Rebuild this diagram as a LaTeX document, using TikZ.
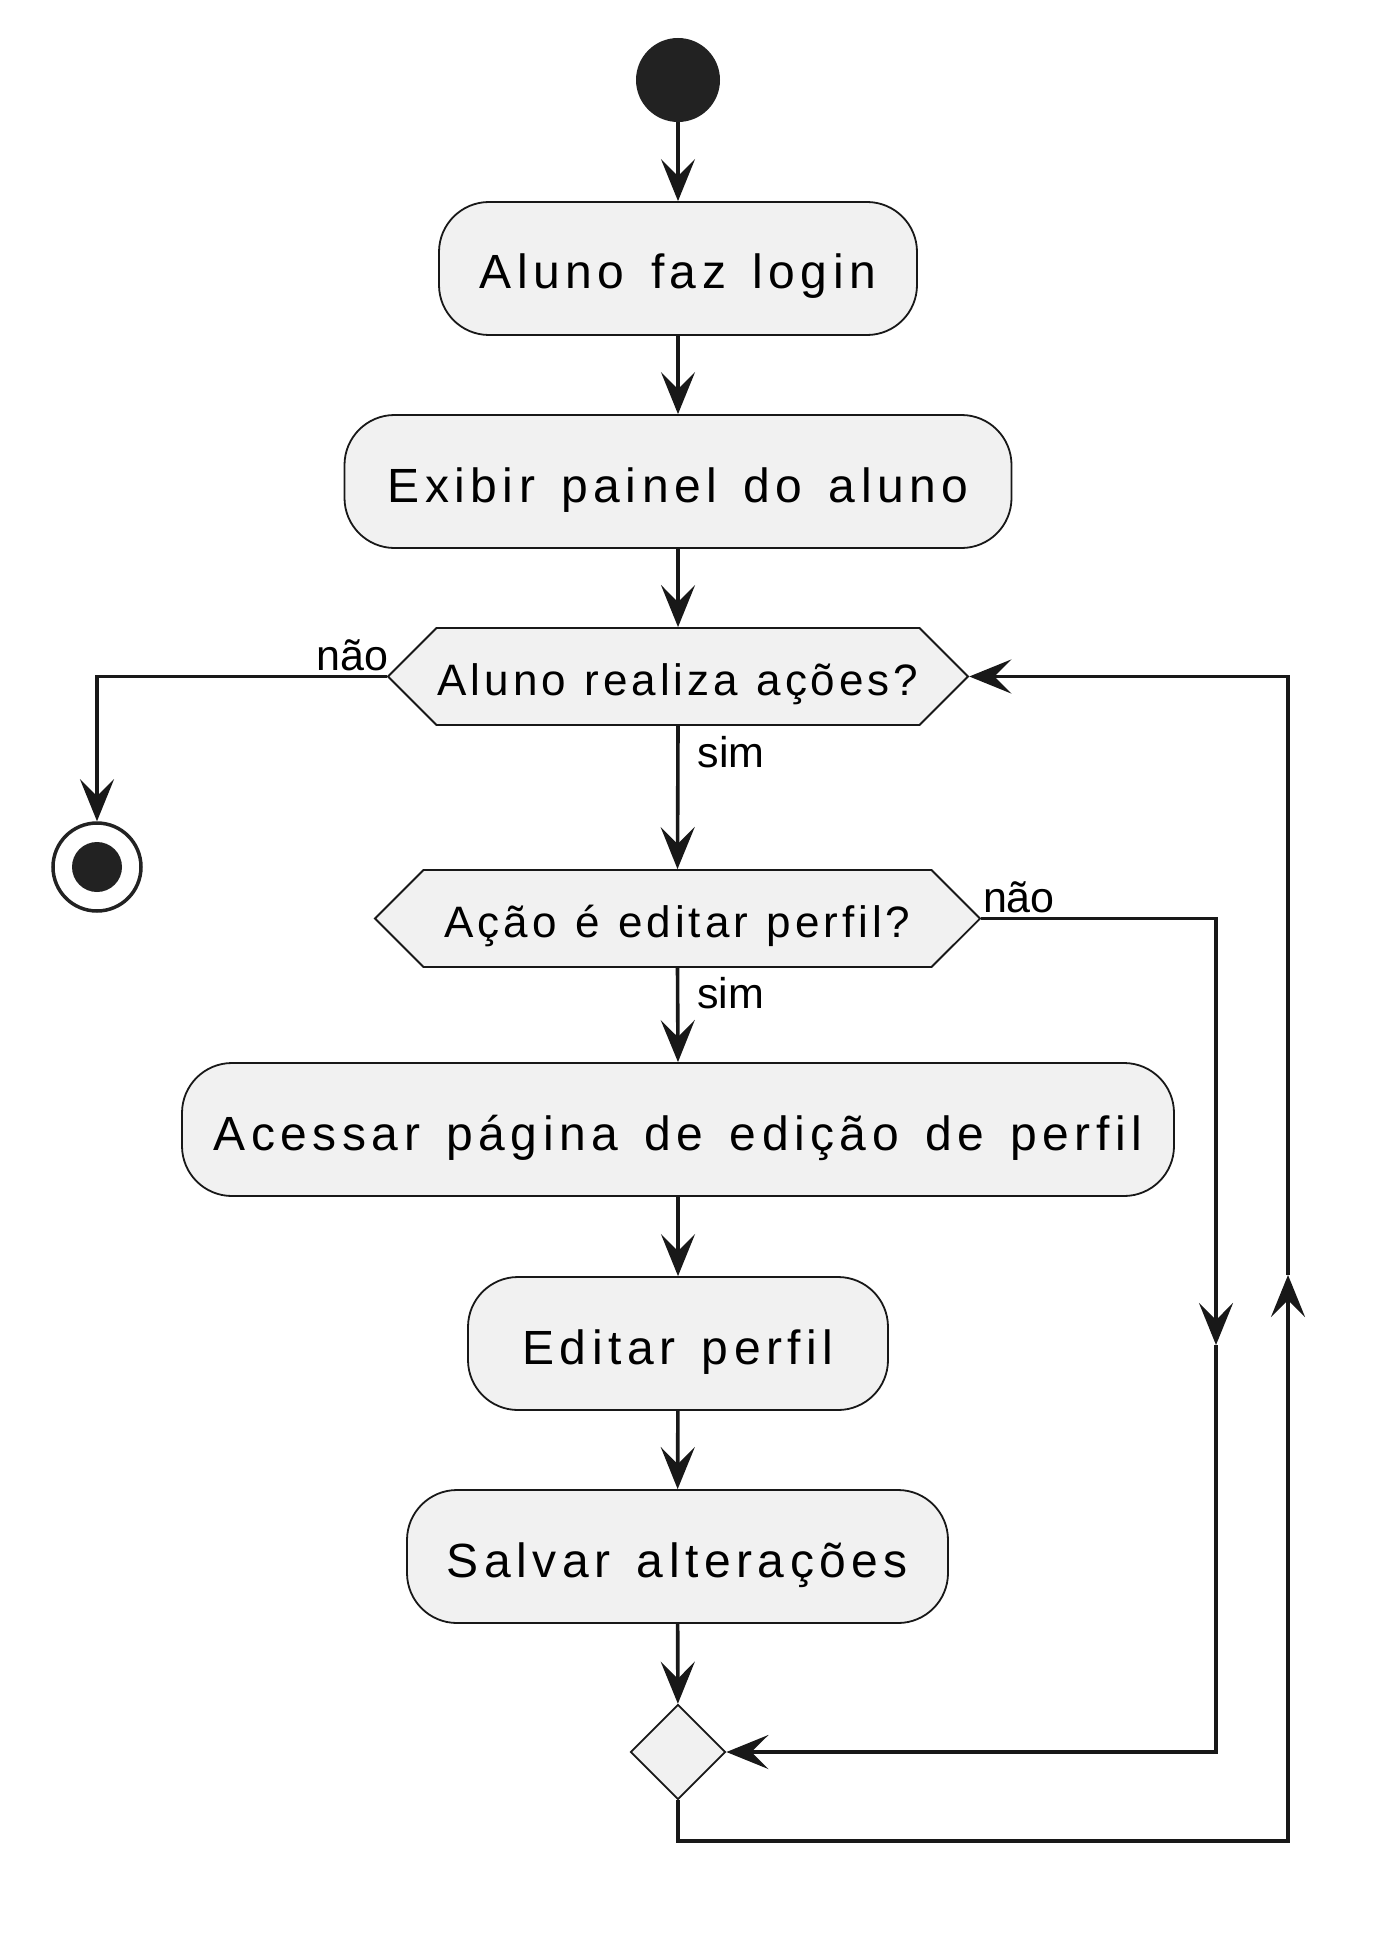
\documentclass[tikz,border=0pt]{standalone}
\usepackage{fontspec}
\setmainfont{Liberation Sans}
\newfontfamily\actfont[LetterSpace=11.5,WordSpace=1.4]{Liberation Sans}
\newfontfamily\decfont[LetterSpace=9,WordSpace=1.15]{Liberation Sans}
\usetikzlibrary{shapes.geometric,shapes.symbols}
\usetikzlibrary{arrows.meta}
\definecolor{umlline}{HTML}{181818}
\definecolor{umlfill}{HTML}{F1F1F1}
\definecolor{umldot}{HTML}{222222}
\tikzset{
  act/.style={
    % The shape:
    shape=rectangle,rounded corners=50pt,
    % The size:
    minimum height=133pt,inner sep=0pt,
    text height=41pt,text depth=0pt,
    % The border:
    line width=1.8pt,draw=umlline,
    % The filling:
    fill=umlfill,
    font={\actfont\fontsize{48}{56}\selectfont}
  }}
\tikzset{
	dec/.style={
		% The shape:
		signal,signal to=west and east,signal pointer angle=90,
		minimum height=97pt,inner sep=0pt,
		text height=37pt,text depth=0pt,
		% The rest
		line width=1.8pt,draw=umlline,fill=umlfill,
		font={\decfont\fontsize{44}{52}\selectfont}}}
\tikzset{
	merge/.style={diamond,aspect=1,minimum size=95pt,inner sep=0pt,
		line width=1.8pt,draw=umlline,fill=umlfill},
	startdot/.style={circle,minimum size=84pt,inner sep=0pt,fill=umldot},
	stopdot/.style={circle,minimum size=88pt,inner sep=0pt,
		line width=3.5pt,draw=umldot,fill=white,
		path picture={\fill[umldot] (path picture bounding box.center) circle (25pt);}},
	flow/.style={line width=3.6pt,draw=umlline,
		-{Stealth[length=42pt,width=34pt,inset=17pt]}},
	lbl/.style={inner sep=0pt,font={\fontsize{43}{50}\selectfont}}}

\begin{document}
\begin{tikzpicture}[x=1pt,y=-1pt]
	\useasboundingbox[fill=white] (0,0) rectangle (1393,1934);
	\node[startdot] (start) at (678,80) {};
	\node[act,minimum width=478pt] (login) at (678,268.5) {Aluno faz login};
	\node[act,minimum width=667pt] (painel) at (678,481.5) {Exibir painel do aluno};
	\node[dec,minimum width=580pt] (acoes) at (678,676.5) {Aluno realiza ações?};
	\node[dec,minimum width=605pt] (editar) at (677.5,918.5) {Ação é editar perfil?};
	\node[act,minimum width=992pt] (acessar) at (678,1129.5) {Acessar página de edição de perfil};
	\node[act,minimum width=420pt] (edperfil) at (678,1343.5) {Editar perfil};
	\node[act,minimum width=541pt] (salvar) at (677.5,1556.5) {Salvar alterações};
	\node[merge] (junta) at (678,1752) {};
	\node[stopdot] (stop) at (97,867) {};
	\coordinate (midR) at (1216,1345);
	\coordinate (midL) at (1288,1275);
	\coordinate (loopB) at (678,1841);
	% Main line
	\draw[flow] (start) -- (login);
	\draw[flow] (login) -- (painel);
	\draw[flow] (painel) -- (acoes);
	\draw[flow] (acoes.south) node[lbl,anchor=base west,xshift=18pt,yshift=-42pt] {sim} -- (editar.north);
	\draw[flow] (editar.south) node[lbl,anchor=base west,xshift=18pt,yshift=-41pt] {sim} -- (acessar.north);
	\draw[flow] (acessar) -- (edperfil);
	\draw[flow] (edperfil) -- (salvar);
	\draw[flow] (salvar) -- (junta);
	% Out of acoes
	\draw[flow] (acoes.west) node[lbl,anchor=base east,xshift=3pt,yshift=6pt] {não} -| (stop.north);
	% Out of editar
	\draw[flow] (editar.east) node[lbl,anchor=base west,xshift=0pt,yshift=6pt] {não} -| (midR);
	\draw[flow] (midR) |- (junta.east);
	% Back to acoes
	\draw[flow] (junta.south) -- (loopB) -| (midL);
	\draw[flow] (midL) |- (acoes.east);
\end{tikzpicture}
\end{document}
